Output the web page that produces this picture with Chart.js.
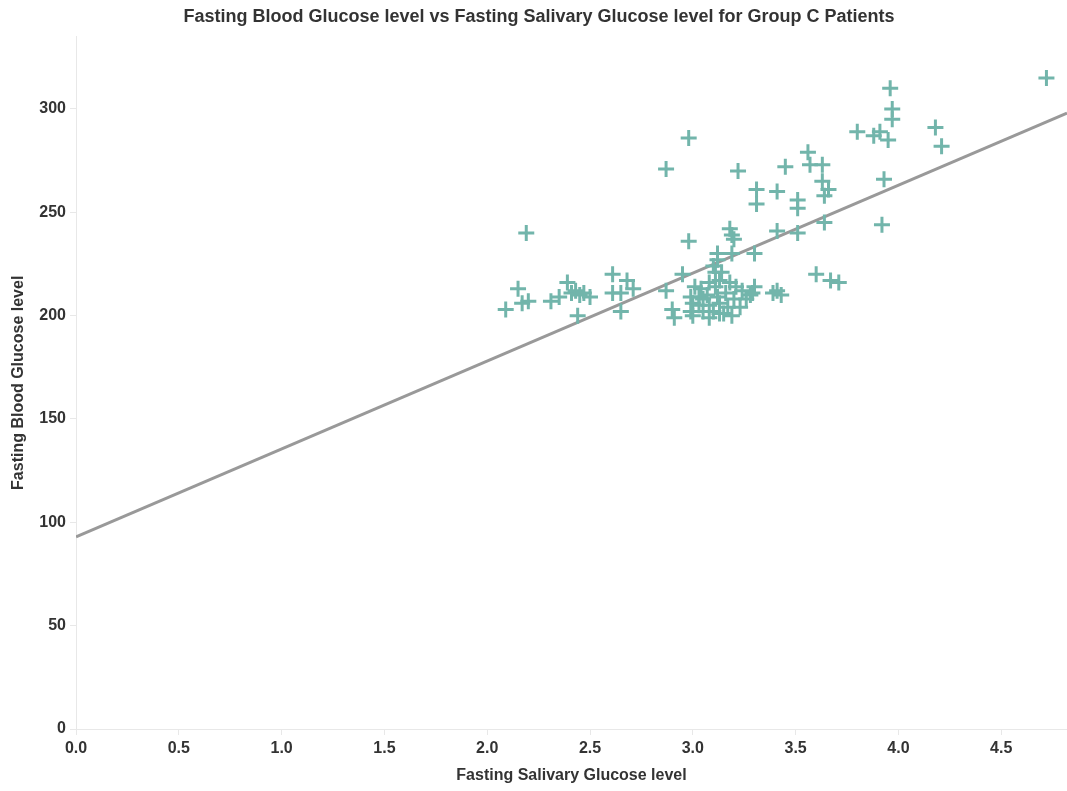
<!DOCTYPE html>
<html>
<head>
<meta charset="utf-8">
<script src="https://cdn.jsdelivr.net/npm/chart.js@4.4.1/dist/chart.umd.min.js"></script>
<style>
  html, body { margin: 0; padding: 0; background: #fff; overflow: hidden; }
  /* a little wider than the window so the plot runs to the right edge */
  #wrap { width: 1078px; height: 791px; position: relative; }
</style>
</head>
<body>
<div id="wrap"><canvas id="chart"></canvas></div>
<script>
  // Fasting salivary glucose (x) and fasting blood glucose (y)
  const salivaryGlucose = [
    2.09, 2.15, 2.17, 2.19, 2.20, 2.31, 2.35, 2.39, 2.41, 2.43, 2.45, 2.47, 2.44, 2.50,
    2.61, 2.61, 2.65, 2.65, 2.68, 2.71, 2.87, 2.87, 2.90, 2.91, 2.95, 2.98, 2.98,
    3.22, 3.31, 3.31, 3.41, 3.51, 3.51, 3.18, 3.19, 3.20, 3.41, 3.51,
    3.12, 3.19, 3.30, 3.12, 3.30, 3.28, 3.41, 3.43, 3.60, 3.67, 3.71,
    3.80, 3.88, 3.91, 3.95, 3.56, 3.45, 3.57, 3.63, 3.63, 3.66, 3.64,
    3.93, 3.64, 3.92, 4.72, 3.96, 3.97, 3.97, 4.18, 4.21,
    3.11, 3.13, 3.08, 3.18, 3.21, 3.01, 3.04, 3.24, 3.29, 3.39,
    2.99, 3.03, 3.07, 3.12, 3.16, 3.20, 3.26, 3.00, 3.03, 3.08, 3.13, 3.17, 3.23,
    2.99, 3.05, 3.10, 3.15, 3.19, 3.00, 3.08, 3.13, 3.05, 3.11, 3.14, 3.10
  ];
  const bloodGlucose = [
    203, 213, 206, 240, 207, 207, 209, 216, 211, 212, 210, 211, 200, 209,
    220, 211, 211, 202, 217, 213, 271, 212, 203, 199, 220, 286, 236,
    270, 261, 254, 260, 256, 252, 242, 239, 237, 241, 240,
    230, 230, 230, 227, 214, 210, 212, 210, 220, 217, 216,
    289, 287, 289, 285, 279, 272, 273, 273, 265, 261, 258,
    266, 245, 244, 315, 310, 300, 295, 291, 282,
    221, 217, 216, 216, 214, 214, 213, 212, 211, 211,
    209, 209, 210, 209, 211, 208, 208, 206, 205, 205, 206, 204, 204,
    202, 202, 202, 201, 200, 200, 199, 201, 208, 214, 221, 224
  ];

  // Trend line ends
  const trendX = [0, 4.82];
  const trendY = [93, 298];

  const xTicks = [0, 0.5, 1, 1.5, 2, 2.5, 3, 3.5, 4, 4.5];
  const yTicks = [0, 50, 100, 150, 200, 250, 300];

  const teal = "#72b5ab";
  const ink = "#333333";
  const faint = "#e8e8e8";
  const font = "'Liberation Sans', Arial, Helvetica, sans-serif";

  const points = salivaryGlucose.map((x, i) => ({ x, y: bloodGlucose[i] }));
  const trend = trendX.map((x, i) => ({ x, y: trendY[i] }));

  new Chart(document.getElementById("chart"), {
    type: "scatter",
    data: {
      datasets: [
        {
          type: "line",
          data: trend,
          borderColor: "#999999",
          borderWidth: 3,
          pointRadius: 0,
          fill: false,
          order: 2,
        },
        {
          data: points,
          pointStyle: "cross",
          pointRadius: 8,
          pointHoverRadius: 8,
          borderColor: teal,
          backgroundColor: teal,
          pointBorderWidth: 3,
          order: 1,
        },
      ],
    },
    options: {
      responsive: true,
      maintainAspectRatio: false,
      animation: false,
      layout: { padding: 0 },
      plugins: {
        legend: { display: false },
        tooltip: { enabled: false },
        title: {
          display: true,
          text: "Fasting Blood Glucose level vs Fasting Salivary Glucose level for Group C Patients",
          color: ink,
          font: { family: font, size: 18, weight: "bold" },
          padding: { top: 6, bottom: 9 },
        },
      },
      scales: {
        x: {
          type: "linear",
          min: 0,
          max: 4.82,
          afterBuildTicks: (s) => { s.ticks = xTicks.map(v => ({ value: v })); },
          afterFit: (s) => { s.height = 62; },
          ticks: {
            color: ink,
            padding: 4,
            font: { family: font, size: 16, weight: "bold" },
            callback: (v) => Number(v).toFixed(1),
          },
          grid: { display: true, drawOnChartArea: false, color: faint, tickLength: 6 },
          border: { color: faint, width: 1 },
          title: {
            display: true,
            text: "Fasting Salivary Glucose level",
            color: ink,
            font: { family: font, size: 16, weight: "bold" },
            padding: { top: 6, bottom: 6 },
          },
        },
        y: {
          type: "linear",
          min: 0,
          max: 335,
          afterBuildTicks: (s) => { s.ticks = yTicks.map(v => ({ value: v })); },
          afterFit: (s) => { s.width = 76; },
          ticks: {
            color: ink,
            padding: 4,
            font: { family: font, size: 16, weight: "bold" },
          },
          grid: { display: true, drawOnChartArea: false, color: faint, tickLength: 6 },
          border: { color: faint, width: 1 },
          title: {
            display: true,
            text: "Fasting Blood Glucose level",
            color: ink,
            font: { family: font, size: 16, weight: "bold" },
            padding: { top: 9, bottom: 4 },
          },
        },
      },
    },
  });
</script>
</body>
</html>
